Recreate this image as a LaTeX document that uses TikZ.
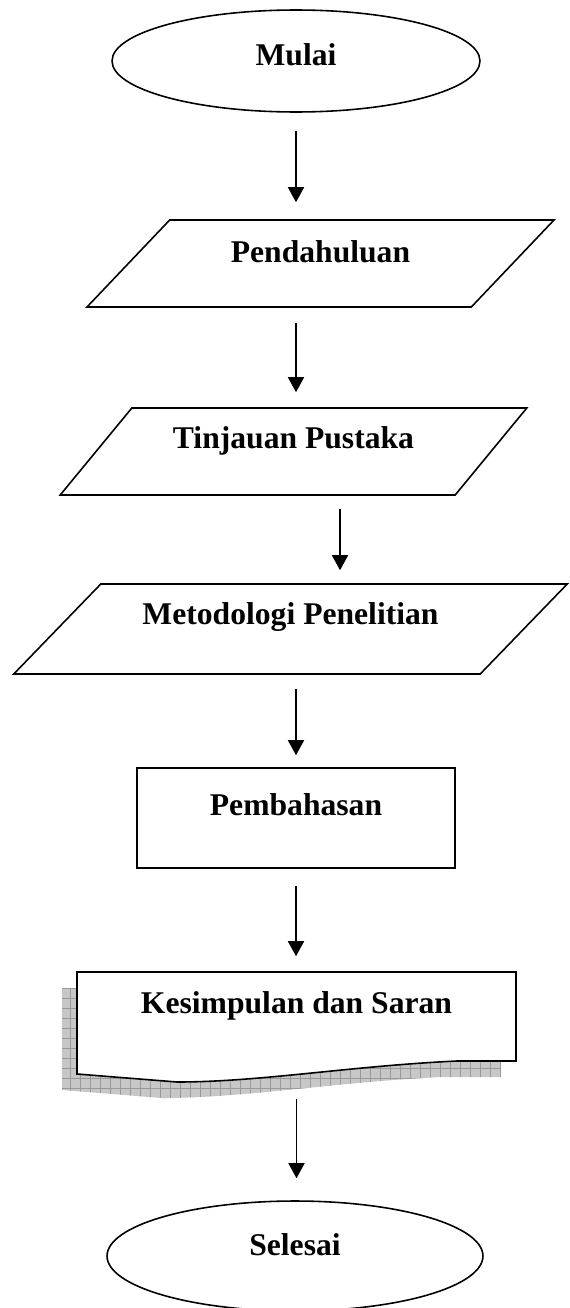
\documentclass[tikz,border=0pt]{standalone}
\usepackage{fontspec}
\setmainfont{Liberation Serif}
\usetikzlibrary{arrows.meta,positioning,shapes.geometric,patterns.meta}

\newcommand{\docoutline}{(77,972) -- (516,972) -- (516,1061) -- (457,1061)
  .. controls (350,1066) and (260,1082) .. (177,1082) -- (77,1074) -- cycle}

\begin{document}
\begin{tikzpicture}[
  x=0.02cm, y=-0.02cm,
  base/.style={draw, line width=0.9pt, inner sep=0pt, text height=0.44cm,
               font=\fontsize{18}{22}\selectfont\bfseries, align=center},
  term/.style={base, ellipse},
  iobox/.style={base, trapezium, trapezium stretches=true},
  proc/.style={base, rectangle},
  arr/.style={-{Triangle[length=0.3cm, width=0.32cm]}, line width=0.9pt}
]
\useasboundingbox (0,0) rectangle (569,1308);

% Start
\node[term, minimum width=7.36cm, minimum height=2.04cm, text depth=0.26cm]
  (mulai) at (296,61) {Mulai};

% Data boxes
\node[iobox, trapezium left angle=43.1, trapezium right angle=136.9,
      minimum width=9.36cm, minimum height=1.74cm, text depth=0.48cm]
  (pend) at (320.5,263.5) {Pendahuluan};
\node[iobox, trapezium left angle=43.1, trapezium right angle=136.9,
      minimum width=9.36cm, minimum height=1.74cm, text depth=0.56cm]
  (tinj) at (293.5,451.5) {Tinjauan Pustaka};
\node[iobox, trapezium left angle=38.5, trapezium right angle=141.5,
      minimum width=11.1cm, minimum height=1.8cm, text depth=0.64cm]
  (meto) at (290.5,629) {Metodologi Penelitian};

% Process
\node[proc, minimum width=6.36cm, minimum height=2cm, text depth=0.54cm]
  (pemb) at (296,818) {Pembahasan};

% Document with shadow
\fill[black!22, shift={(-15,16)}] \docoutline;
\path[pattern={Hatch[angle=0, distance=0.2cm, line width=0.4pt]},
      pattern color=black!40, shift={(-15,16)}] \docoutline;
\draw[line width=0.9pt, fill=white] \docoutline;
\node[base, draw=none, minimum width=8.78cm, minimum height=2.2cm, text depth=0.98cm]
  (kes) at (296.5,1027) {Kesimpulan dan Saran};

% End
\node[term, minimum width=7.52cm, minimum height=2.2cm, text depth=0.48cm]
  (sele) at (295,1256) {Selesai};

% Arrows
\draw[arr, shorten <=0.36cm, shorten >=0.34cm] (mulai.south) -- (mulai.south |- pend.north);
\draw[arr, shorten <=0.3cm, shorten >=0.3cm] (mulai.south |- pend.south) -- (mulai.south |- tinj.north);
\draw[arr, shorten <=0.26cm, shorten >=0.26cm] ([xshift=0.93cm]tinj.south) -- ([xshift=0.93cm]tinj.south |- meto.north);
\draw[arr, shorten <=0.28cm, shorten >=0.24cm] (mulai.south |- meto.south) -- (pemb.north);
\draw[arr, shorten <=0.34cm, shorten >=0.3cm] (pemb.south) -- (pemb.south |- kes.north);
\draw[arr, shorten <=0.32cm, shorten >=0.44cm] (kes.south) -- (kes.south |- sele.north);
\end{tikzpicture}
\end{document}
